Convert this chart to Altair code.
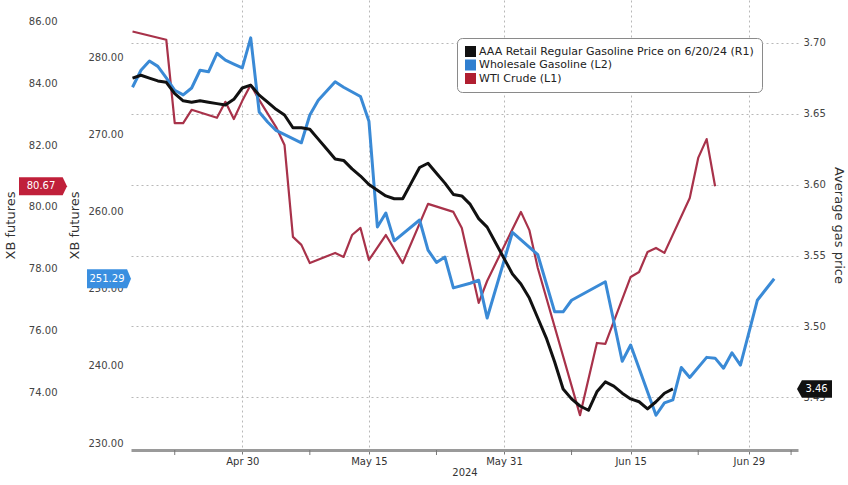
import altair as alt
import pandas as pd

FONT = "DejaVu Sans"

# ---------------- data ----------------
# AAA retail regular gasoline, daily 2024-04-17 .. 2024-06-20 (right axis, $/gal)
aaa_dates = [d.strftime("%Y-%m-%d") for d in pd.date_range("2024-04-17", "2024-06-20", freq="D")]
aaa_price = [3.675, 3.677, 3.675, 3.673, 3.672, 3.664, 3.659, 3.658, 3.659, 3.658, 3.657, 3.656, 3.660, 3.668,
             3.670, 3.663, 3.658, 3.653, 3.649, 3.640, 3.640, 3.639, 3.632, 3.625,
             3.618, 3.617, 3.611, 3.606, 3.600, 3.596, 3.592, 3.590, 3.590, 3.601,
             3.612, 3.615, 3.608, 3.601, 3.593, 3.592, 3.586, 3.576, 3.570, 3.559, 3.548,
             3.537, 3.530, 3.520, 3.506, 3.492, 3.475, 3.456, 3.449, 3.444, 3.441,
             3.454, 3.461, 3.458, 3.453, 3.449, 3.447, 3.442, 3.447, 3.453, 3.456]

# Wholesale gasoline (XB futures, inner left axis)
xb_dates = ["2024-04-17", "2024-04-18", "2024-04-19", "2024-04-20", "2024-04-21", "2024-04-22", "2024-04-23",
            "2024-04-24", "2024-04-25", "2024-04-26", "2024-04-27", "2024-04-28", "2024-04-29", "2024-04-30",
            "2024-05-01", "2024-05-02", "2024-05-03", "2024-05-04", "2024-05-07", "2024-05-08", "2024-05-09",
            "2024-05-11", "2024-05-12", "2024-05-14", "2024-05-15", "2024-05-16", "2024-05-17", "2024-05-18",
            "2024-05-21", "2024-05-22", "2024-05-23", "2024-05-24", "2024-05-25", "2024-05-27", "2024-05-28",
            "2024-05-29", "2024-06-01", "2024-06-04", "2024-06-06", "2024-06-07", "2024-06-08", "2024-06-12",
            "2024-06-14", "2024-06-15", "2024-06-18", "2024-06-19", "2024-06-20", "2024-06-21", "2024-06-22",
            "2024-06-24", "2024-06-25", "2024-06-26", "2024-06-27", "2024-06-28", "2024-06-30", "2024-07-02"]
xb_values = [276.1, 278.3, 279.5, 278.8, 277.3, 275.7, 275.1,
             276.0, 278.3, 278.1, 280.5, 279.6, 279.1, 278.6,
             282.5, 272.9, 271.6, 270.5, 268.9, 272.5, 274.4,
             276.8, 276.1, 274.9, 271.7, 258.0, 259.8, 256.2,
             258.9, 255.0, 253.4, 254.1, 250.1, 250.7, 251.1,
             246.2, 257.3, 254.4, 247.0, 247.0, 248.5, 250.9,
             240.6, 242.7, 233.6, 235.2, 235.6, 239.8, 238.5,
             241.1, 241.0, 239.7, 241.7, 240.1, 248.5, 251.29]

# WTI crude (outer left axis)
wti_dates = ["2024-04-17", "2024-04-21", "2024-04-22", "2024-04-23", "2024-04-24", "2024-04-27", "2024-04-28",
             "2024-04-29", "2024-04-30", "2024-05-01", "2024-05-02", "2024-05-04", "2024-05-05", "2024-05-06",
             "2024-05-07", "2024-05-08", "2024-05-11", "2024-05-12", "2024-05-13", "2024-05-14", "2024-05-15",
             "2024-05-17", "2024-05-19", "2024-05-22", "2024-05-25", "2024-05-26", "2024-05-28", "2024-05-29",
             "2024-06-02", "2024-06-03", "2024-06-04", "2024-06-09", "2024-06-11", "2024-06-12", "2024-06-15",
             "2024-06-16", "2024-06-17", "2024-06-18", "2024-06-19", "2024-06-22", "2024-06-23", "2024-06-24",
             "2024-06-25"]
wti_values = [85.69, 85.42, 82.72, 82.72, 83.15, 82.89, 83.41,
              82.85, 83.44, 83.96, 83.47, 82.59, 82.01, 79.03,
              78.77, 78.18, 78.51, 78.38, 79.09, 79.32, 78.28,
              79.09, 78.18, 80.10, 79.84, 79.32, 76.89, 77.60,
              79.84, 79.25, 78.02, 73.25, 75.59, 75.56, 77.73,
              77.89, 78.54, 78.67, 78.51, 80.29, 81.59, 82.20,
              80.67]

series_names = ["AAA Retail Regular Gasoline Price on 6/20/24 (R1)", "Wholesale Gasoline (L2)", "WTI Crude (L1)"]
series_colors = ["#111111", "#2f7fd0", "#b01e30"]

x_tick_dates = ["2024-04-30", "2024-05-15", "2024-05-31", "2024-06-15", "2024-06-29"]
minor_tick_dates = ["2024-04-22", "2024-05-08", "2024-05-23", "2024-06-08", "2024-06-23", "2024-07-04"]
gas_ticks = [3.45, 3.50, 3.55, 3.60, 3.65, 3.70]
xb_ticks = [230, 240, 250, 260, 270, 280]
wti_ticks = [74, 76, 78, 80, 82, 84, 86]

gas_domain = [3.413, 3.730]
xb_domain = [229.1, 287.4]
wti_domain = [72.12, 86.71]

# ---------------- helpers ----------------
def dt(s, hours=0, minutes=0):
    y, m, d = (int(p) for p in s.split("-"))
    return alt.DateTime(year=y, month=m, date=d, hours=hours, minutes=minutes, utc=True)

x_scale = alt.Scale(type="utc", domain=[dt("2024-04-16", 19, 40), dt("2024-07-04", 19, 40)])
x_axis = alt.Axis(values=[dt(s) for s in x_tick_dates], labelExpr="utcFormat(datum.value, '%b %d')",
                  title="2024", grid=True, gridDash=[2, 3], gridColor="#b8b8b8",
                  domainColor="#9a9a9a", domainWidth=3, tickColor="#777777", tickSize=4,
                  labelFont=FONT, labelFontSize=10, labelColor="#333333", labelPadding=2,
                  titleFont=FONT, titleFontSize=10, titleFontWeight="normal", titleColor="#333333",
                  titlePadding=1)

def xenc():
    return alt.X("date:T", scale=x_scale, axis=x_axis)

def yscale(dom):
    return alt.Scale(domain=dom, nice=False, zero=False)

lab = dict(labelFont=FONT, labelFontSize=10, labelColor="#444444", titleFont=FONT, titleFontSize=13,
           titleFontWeight="normal", titleColor="#333333", ticks=False, domain=False)

df_aaa = pd.DataFrame({"date": aaa_dates, "v": aaa_price})
df_xb = pd.DataFrame({"date": xb_dates, "v": xb_values})
df_wti = pd.DataFrame({"date": wti_dates, "v": wti_values})

wti_line = alt.Chart(df_wti).mark_line(color="#a8324a", strokeWidth=2.2, strokeJoin="round").encode(
    x=xenc(),
    y=alt.Y("v:Q", scale=yscale(wti_domain),
            axis=alt.Axis(orient="left", offset=66, values=wti_ticks, format=".2f", title="XB futures",
                          grid=False, labelPadding=8, titlePadding=11, **lab)))

xb_line = alt.Chart(df_xb).mark_line(color="#3a8ad6", strokeWidth=3, strokeJoin="round").encode(
    x=xenc(),
    y=alt.Y("v:Q", scale=yscale(xb_domain),
            axis=alt.Axis(orient="left", values=xb_ticks, format=".2f", title="XB futures",
                          grid=False, labelPadding=8, titlePadding=7, **lab)))

gas_line = alt.Chart(df_aaa).mark_line(color="#111111", strokeWidth=3, strokeJoin="round").encode(
    x=xenc(),
    y=alt.Y("v:Q", scale=yscale(gas_domain),
            axis=alt.Axis(orient="right", values=gas_ticks, format=".2f", title="Average gas price",
                          grid=True, gridDash=[2, 3], gridColor="#b8b8b8", labelPadding=5, titlePadding=6, **lab)))

minor = alt.Chart(pd.DataFrame({"date": minor_tick_dates})).mark_rule(color="#777777", strokeWidth=1).encode(
    x=xenc(), y=alt.value(450), y2=alt.value(455))

legend_layer = alt.Chart(pd.DataFrame({"series": series_names})).mark_square(size=0).encode(
    color=alt.Color("series:N", scale=alt.Scale(domain=series_names, range=series_colors),
                    legend=alt.Legend(orient="none", legendX=326, legendY=38, title=None,
                                      symbolType="square", symbolSize=121, symbolStrokeWidth=0,
                                      symbolOpacity=1,
                                      labelFont=FONT, labelFontSize=11, labelColor="#222222",
                                      labelOffset=3, rowPadding=1.5, padding=8, labelLimit=400,
                                      fillColor="white", strokeColor="#8a8a8a", cornerRadius=5)))

def tag(df, dom, shape, size, fill, xc, xt):
    box = alt.Chart(df).mark_point(shape=shape, size=size, filled=True, opacity=1, color=fill).encode(
        x=alt.value(xc), y=alt.Y("v:Q", scale=yscale(dom), axis=None))
    txt = alt.Chart(df).mark_text(font=FONT, fontSize=10, color="white").encode(
        x=alt.value(xt), y=alt.Y("v:Q", scale=yscale(dom), axis=None),
        text=alt.Text("v:Q", format=".2f"))
    return [box, txt]

right_arrow = "M-1,-0.375L0.82,-0.375L1,0L0.82,0.375L-1,0.375Z"
right_arrow_b = "M-1,-0.43L0.82,-0.43L1,0L0.82,0.43L-1,0.43Z"
left_arrow = "M-1,0L-0.72,-0.5L1,-0.5L1,0.5L-0.72,0.5Z"

layers = [wti_line, xb_line, gas_line, minor, legend_layer]
layers += tag(df_wti.tail(1), wti_domain, right_arrow, 2304, "#c0203a", -88, -90)
layers += tag(df_xb.tail(1), xb_domain, right_arrow_b, 1936, "#3a8fe0", -22, -24)
layers += tag(df_aaa.tail(1), gas_domain, left_arrow, 1225, "#111111", 683.5, 685.5)

chart = alt.layer(*layers).resolve_scale(y="independent").properties(
    width=667, height=450,
    autosize=alt.AutoSizeParams(type="none"),
    padding={"left": 131, "right": 50, "top": 0, "bottom": 35},
    background="white",
).configure(font=FONT).configure_view(stroke=None)

chart.save("out.html", embed_options={"renderer": "svg", "actions": False})
